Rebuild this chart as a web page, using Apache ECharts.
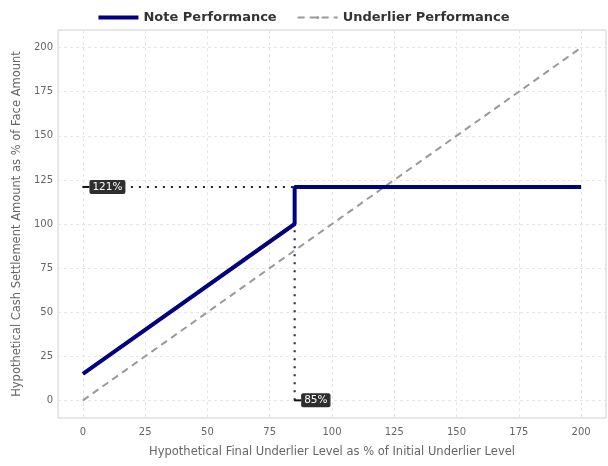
<!DOCTYPE html>
<html><head><meta charset="utf-8">
<script src="https://cdn.jsdelivr.net/npm/echarts@6/dist/echarts.min.js"></script>
<style>html,body{margin:0;padding:0;background:#fff}#c{width:608px;height:466px}</style>
</head><body><div id="c"></div>
<script>
const tickValues = [0, 25, 50, 75, 100, 125, 150, 175, 200];
const noteX = [0, 85, 85, 200];
const noteY = [15, 100, 121, 121];
const underX = [0, 200];
const underY = [0, 200];
const capLevel = 121;
const barrierLevel = 85;
const labels = ['121%', '85%'];

const chart = echarts.init(document.getElementById('c'), null, {renderer: 'canvas'});
const font = 'DejaVu Sans';
const labelBox = {
  show: true, position: 'right', distance: 0,
  backgroundColor: '#2e2e2e', color: '#fff', fontFamily: font, fontSize: 10.5,
  padding: [2, 3, 1, 3], borderRadius: 2
};
chart.setOption({
  animation: false,
  textStyle: {fontFamily: font},
  legend: {
    top: 6, left: 'center', itemWidth: 40, itemHeight: 4, itemGap: 20,
    textStyle: {fontFamily: font, fontSize: 13, fontWeight: 'bold', color: '#333'},
    data: [
      {name: 'Note Performance', icon: 'rect', itemStyle: {color: '#000080'}},
      {name: 'Underlier Performance'}
    ]
  },
  grid: {left: 58, right: 2, top: 30, bottom: 48, show: true, borderColor: '#d0d0d0', borderWidth: 1},
  xAxis: {
    type: 'value', min: -10, max: 210,
    name: 'Hypothetical Final Underlier Level as % of Initial Underlier Level',
    nameLocation: 'middle', nameGap: 28,
    nameTextStyle: {fontFamily: font, fontSize: 11.5, color: '#666'},
    axisLine: {show: false}, axisTick: {show: false, customValues: tickValues},
    axisLabel: {customValues: tickValues, color: '#666', fontSize: 10, fontFamily: font, margin: 9},
    splitLine: {show: true, lineStyle: {color: '#e6e6e6', type: [3, 3], width: 1}}
  },
  yAxis: {
    type: 'value', min: -10, max: 210,
    name: 'Hypothetical Cash Settlement Amount as % of Face Amount',
    nameLocation: 'middle', nameGap: 27,
    nameTextStyle: {fontFamily: font, fontSize: 11.5, color: '#666'},
    axisLine: {show: false}, axisTick: {show: false, customValues: tickValues},
    axisLabel: {customValues: tickValues, color: '#666', fontSize: 10, fontFamily: font, margin: 5},
    splitLine: {show: true, lineStyle: {color: '#e6e6e6', type: [3, 3], width: 1}}
  },
  series: [
    {
      name: 'Underlier Performance', type: 'line', symbol: 'none',
      data: underX.map((x, i) => [x, underY[i]]),
      lineStyle: {color: '#999', width: 2, type: [7, 5]}, itemStyle: {color: '#999'}, z: 2
    },
    {
      name: 'cap dotted', type: 'line', symbol: 'none',
      data: [[0, capLevel], [barrierLevel, capLevel]],
      lineStyle: {color: '#1a1a50', width: 2, type: [2, 6]}, z: 3
    },
    {
      name: 'barrier dotted', type: 'line', symbol: 'none',
      data: [[barrierLevel, 0], [barrierLevel, capLevel]],
      lineStyle: {color: '#1a1a50', width: 2, type: [2, 6]}, z: 3
    },
    {
      name: 'Note Performance', type: 'line', symbol: 'none',
      data: noteX.map((x, i) => [x, noteY[i]]),
      lineStyle: {color: '#000080', width: 4}, itemStyle: {color: '#000080'}, z: 4
    },
    {
      name: 'labels', type: 'scatter', symbol: 'rect', symbolSize: [7, 2], symbolOffset: [3, 0],
      itemStyle: {color: '#111', opacity: 1}, z: 5,
      data: [
        {value: [0, capLevel], label: Object.assign({}, labelBox, {formatter: labels[0]})},
        {value: [barrierLevel, 0], label: Object.assign({}, labelBox, {formatter: labels[1]})}
      ],
      label: labelBox
    }
  ]
});
</script></body></html>
